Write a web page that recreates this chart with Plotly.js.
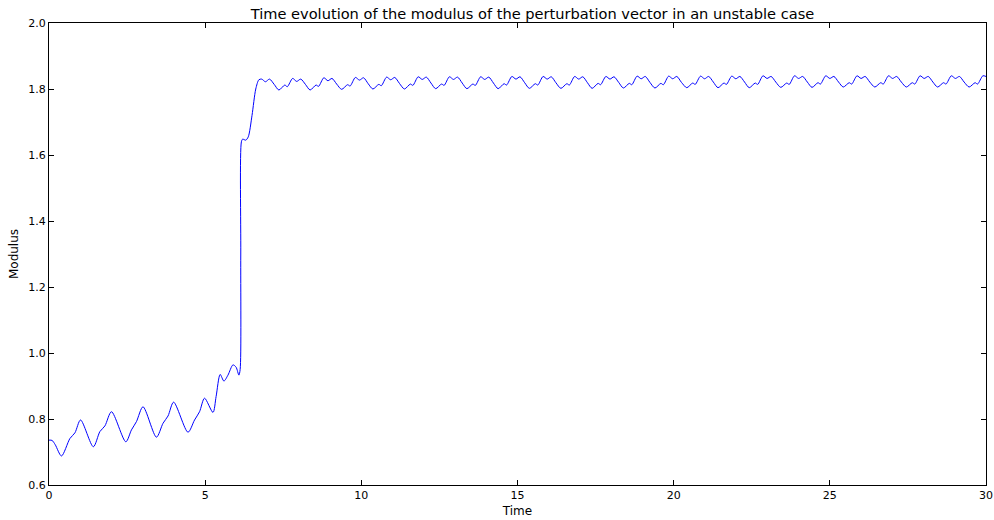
<!DOCTYPE html>
<html>
<head>
<meta charset="utf-8">
<script src="https://cdn.plot.ly/plotly-3.0.1.min.js"></script>
<style>
  html, body { margin: 0; padding: 0; background: #fff; }
  #chart { width: 994px; height: 520px; }
</style>
</head>
<body>
<div id="chart"></div>
<script>
// Modulus of the perturbation vector over time (unstable case)
const time = [
  0.00, 0.10, 0.20, 0.40, 0.67, 0.83, 1.01, 1.42, 1.63, 1.79, 2.00,
  2.46, 2.64, 2.80, 3.01, 3.44, 3.65, 3.81, 3.99, 4.45, 4.66, 4.82,
  4.98, 5.25, 5.35, 5.48, 5.60, 5.73, 5.89, 5.99, 6.08, 6.12, 6.14,
  6.16, 6.20, 6.30, 6.38, 6.50, 6.62, 6.72, 6.81, 6.93, 7.06, 7.21,
  7.36, 7.55, 7.63, 7.80, 7.93, 8.06, 8.21,
  8.36, 8.55, 8.63, 8.80, 8.93, 9.06, 9.21,
  9.37, 9.56, 9.64, 9.81, 9.94, 10.07, 10.22,
  10.37, 10.56, 10.64, 10.81, 10.94, 11.07, 11.22,
  11.38, 11.57, 11.65, 11.82, 11.95, 12.08, 12.23,
  12.38, 12.57, 12.65, 12.82, 12.95, 13.08, 13.23,
  13.38, 13.57, 13.65, 13.82, 13.95, 14.08, 14.23,
  14.38, 14.57, 14.65, 14.82, 14.95, 15.08, 15.23,
  15.38, 15.57, 15.65, 15.82, 15.95, 16.08, 16.23,
  16.39, 16.58, 16.66, 16.83, 16.96, 17.09, 17.24,
  17.39, 17.58, 17.66, 17.83, 17.96, 18.09, 18.24,
  18.39, 18.58, 18.66, 18.83, 18.96, 19.09, 19.24,
  19.40, 19.59, 19.67, 19.84, 19.97, 20.10, 20.25,
  20.42, 20.61, 20.69, 20.86, 20.99, 21.12, 21.27,
  21.42, 21.61, 21.69, 21.86, 21.99, 22.12, 22.27,
  22.42, 22.61, 22.69, 22.86, 22.99, 23.12, 23.27,
  23.43, 23.62, 23.70, 23.87, 24.00, 24.13, 24.28,
  24.43, 24.62, 24.70, 24.87, 25.00, 25.13, 25.28,
  25.43, 25.62, 25.70, 25.87, 26.00, 26.13, 26.28,
  26.44, 26.63, 26.71, 26.88, 27.01, 27.14, 27.29,
  27.45, 27.64, 27.72, 27.89, 28.02, 28.15, 28.30,
  28.45, 28.64, 28.72, 28.89, 29.02, 29.15, 29.30,
  29.46, 29.65, 29.73, 29.90, 30.00
];

const modulus = [
  0.736, 0.735, 0.722, 0.688, 0.741, 0.758, 0.797, 0.716, 0.762, 0.779, 0.822,
  0.731, 0.767, 0.792, 0.837, 0.745, 0.787, 0.809, 0.851, 0.760, 0.797, 0.822,
  0.863, 0.820, 0.868, 0.935, 0.915, 0.933, 0.964, 0.957, 0.933, 0.950, 1.300,
  1.640, 1.648, 1.645, 1.655, 1.720, 1.800, 1.828, 1.830, 1.822, 1.830, 1.814,
  1.797, 1.812, 1.807, 1.832, 1.823, 1.830, 1.814,
  1.797, 1.812, 1.808, 1.834, 1.825, 1.832, 1.815,
  1.799, 1.813, 1.809, 1.835, 1.827, 1.834, 1.816,
  1.800, 1.814, 1.810, 1.836, 1.828, 1.835, 1.817,
  1.800, 1.815, 1.811, 1.837, 1.829, 1.836, 1.818,
  1.801, 1.815, 1.811, 1.837, 1.829, 1.836, 1.818,
  1.801, 1.815, 1.811, 1.837, 1.829, 1.836, 1.818,
  1.801, 1.816, 1.812, 1.838, 1.830, 1.837, 1.819,
  1.802, 1.816, 1.812, 1.838, 1.830, 1.837, 1.819,
  1.802, 1.816, 1.812, 1.838, 1.830, 1.837, 1.819,
  1.802, 1.817, 1.813, 1.838, 1.830, 1.837, 1.820,
  1.803, 1.817, 1.813, 1.839, 1.831, 1.838, 1.820,
  1.803, 1.817, 1.813, 1.839, 1.831, 1.838, 1.820,
  1.804, 1.818, 1.814, 1.839, 1.831, 1.838, 1.821,
  1.804, 1.818, 1.814, 1.839, 1.831, 1.838, 1.821,
  1.804, 1.818, 1.814, 1.840, 1.832, 1.838, 1.821,
  1.805, 1.818, 1.814, 1.840, 1.832, 1.838, 1.821,
  1.805, 1.819, 1.815, 1.840, 1.832, 1.838, 1.821,
  1.806, 1.819, 1.815, 1.840, 1.832, 1.838, 1.821,
  1.806, 1.819, 1.815, 1.840, 1.832, 1.838, 1.821,
  1.806, 1.819, 1.815, 1.840, 1.832, 1.838, 1.821,
  1.806, 1.819, 1.815, 1.840, 1.832, 1.838, 1.821,
  1.806, 1.819, 1.815, 1.840, 1.838
];

const xTicks = [0, 5, 10, 15, 20, 25, 30];
const yTicks = [0.6, 0.8, 1.0, 1.2, 1.4, 1.6, 1.8, 2.0];

const font = 'DejaVu Sans, Liberation Sans, sans-serif';

const trace = {
  x: time,
  y: modulus,
  type: 'scatter',
  mode: 'lines',
  line: { color: '#0000ff', width: 1, shape: 'spline', smoothing: 0.8 },
  hoverinfo: 'x+y'
};

const axisCommon = {
  showline: true,
  linecolor: '#000',
  linewidth: 1,
  mirror: 'ticks',
  ticks: 'inside',
  ticklen: 5,
  tickwidth: 1,
  tickcolor: '#000',
  showgrid: false,
  zeroline: false,
  ticklabeloverflow: 'allow',
  tickfont: { family: font, size: 11, color: '#000' }
};

const layout = {
  width: 994,
  height: 520,
  margin: { l: 49, r: 8, t: 23, b: 35 },
  paper_bgcolor: '#fff',
  plot_bgcolor: '#fff',
  showlegend: false,
  title: {
    text: 'Time evolution of the modulus of the perturbation vector in an unstable case',
    font: { family: font, size: 14.6, color: '#000' },
    x: 0.516, xref: 'paper', xanchor: 'center',
    y: 1, yref: 'paper', yanchor: 'bottom', pad: { b: 4 }
  },
  xaxis: Object.assign({}, axisCommon, {
    range: [0, 30],
    tickvals: xTicks,
    ticktext: xTicks.map(String),
    title: { text: 'Time', font: { family: font, size: 12, color: '#000' }, standoff: 5 }
  }),
  yaxis: Object.assign({}, axisCommon, {
    range: [0.6, 2.0],
    tickvals: yTicks,
    ticktext: yTicks.map(v => v.toFixed(1)),
    title: { text: 'Modulus', font: { family: font, size: 12, color: '#000' }, standoff: 7 }
  })
};

Plotly.newPlot('chart', [trace], layout, { displayModeBar: false, staticPlot: true });
</script>
</body>
</html>
